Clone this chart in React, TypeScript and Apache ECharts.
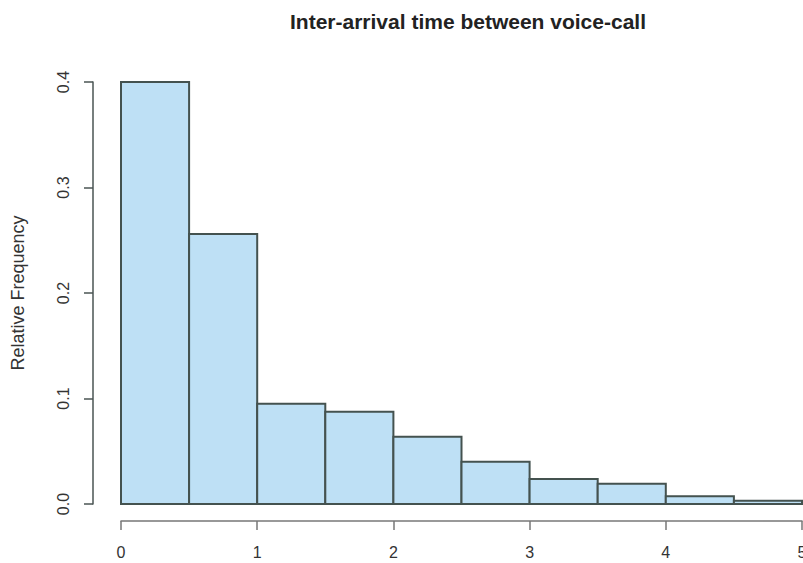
import React, { useEffect, useRef } from "react";
import * as echarts from "echarts";

const binStarts = [0, 0.5, 1, 1.5, 2, 2.5, 3, 3.5, 4, 4.5];
const binWidth = 0.5;
const relFreq = [0.4, 0.256, 0.095, 0.0875, 0.0638, 0.04, 0.0237, 0.0193, 0.0073, 0.0031];
const xTicks = [0, 1, 2, 3, 4, 5];
const yTicks = [0, 0.1, 0.2, 0.3, 0.4];

export default function App() {
  const ref = useRef<HTMLDivElement>(null);
  useEffect(() => {
    if (!ref.current) return;
    const chart = echarts.init(ref.current, null, { renderer: "svg" });
    const data = binStarts.map((s, i) => [s, s + binWidth, relFreq[i]]);
    const axisColor = "#4a5553";
    chart.setOption({
      animation: false,
      backgroundColor: "#ffffff",
      title: {
        text: "Inter-arrival time between voice-call",
        left: 463,
        textAlign: "center",
        top: 6,
        textStyle: { fontFamily: "Liberation Sans, Arial", fontWeight: "bold", fontSize: 21, color: "#222" },
      },
      grid: { left: 121, right: 1, top: 82, bottom: 59, outerBoundsMode: "none", containLabel: false },
      xAxis: {
        type: "value",
        min: xTicks[0],
        max: xTicks[xTicks.length - 1],
        interval: 1,
        offset: 17,
        splitLine: { show: false },
        axisLine: { show: true, onZero: false, lineStyle: { color: "#777", width: 1.5 } },
        axisTick: { show: true, length: 9, lineStyle: { color: "#777", width: 1.5 } },
        axisLabel: { margin: 23, fontSize: 16, color: "#333", fontFamily: "Liberation Sans, Arial" },
      },
      yAxis: {
        type: "value",
        min: yTicks[0],
        max: yTicks[yTicks.length - 1],
        interval: 0.1,
        offset: 28,
        name: "Relative Frequency",
        nameLocation: "middle",
        nameRotate: 90,
        nameGap: 66,
        nameTextStyle: { fontSize: 18, color: "#333", fontFamily: "Liberation Sans, Arial" },
        splitLine: { show: false },
        axisLine: { show: true, onZero: false, lineStyle: { color: axisColor, width: 1.5 } },
        axisTick: { show: true, length: 9, lineStyle: { color: axisColor, width: 1.5 } },
        axisLabel: {
          rotate: 90,
          margin: 22,
          fontSize: 16,
          color: "#333",
          fontFamily: "Liberation Sans, Arial",
          formatter: (v: number) => v.toFixed(1),
        },
      },
      series: [
        {
          type: "custom",
          data,
          encode: { x: [0, 1], y: 2 },
          renderItem: (params: any, api: any) => {
            const p0 = api.coord([api.value(0), api.value(2)]);
            const p1 = api.coord([api.value(1), 0]);
            return {
              type: "rect",
              shape: { x: p0[0], y: p0[1], width: p1[0] - p0[0], height: p1[1] - p0[1] },
              style: { fill: "#bee0f5", stroke: "#44524f", lineWidth: 2 },
            };
          },
        },
      ],
    });
    return () => chart.dispose();
  }, []);
  return (
    <div
      ref={ref}
      style={{ position: "absolute", left: 0, top: 0, width: 803, height: 563 }}
    />
  );
}
